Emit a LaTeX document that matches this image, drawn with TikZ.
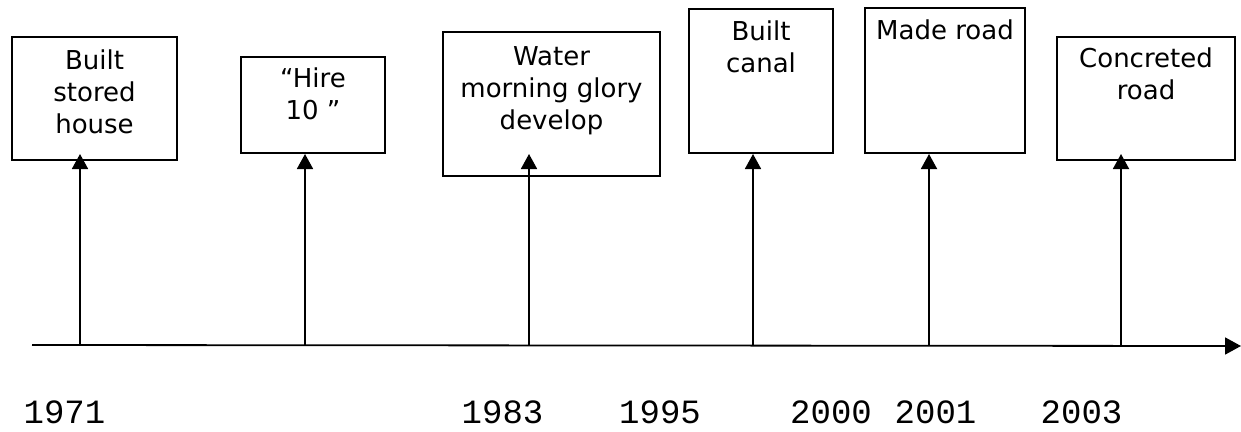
\documentclass[tikz,border=0pt]{standalone}
\usepackage{fontspec}
\usetikzlibrary{arrows.meta}
\newfontfamily\eventfont{DejaVu Sans}
\newfontfamily\yearfont{Liberation Mono}
\begin{document}
\begin{tikzpicture}[x=1pt,y=1pt,
  evbox/.style={draw, line width=1.8pt, inner sep=0pt},
  evtext/.style={anchor=north, inner sep=0pt, align=center,
    font=\eventfont\fontsize{26}{32}\selectfont},
  yrtext/.style={anchor=base, inner sep=0pt,
    font=\yearfont\fontsize{34}{40}\selectfont},
  uparrow/.style={line width=1.8pt, -{Triangle[length=15pt,width=16pt]}},
  axis/.style={line width=1.8pt, -{Triangle[length=16pt,width=17pt]}}]
\useasboundingbox (0,0) rectangle (1241,-431);

% event boxes
\node[evbox, minimum width=165pt, minimum height=123pt] (b1) at (94.5,-98.5) {};
\node[evbox, minimum width=144pt, minimum height=96pt]  (b2) at (313,-105) {};
\node[evbox, minimum width=217pt, minimum height=144pt] (b3) at (551.5,-104) {};
\node[evbox, minimum width=144pt, minimum height=144pt] (b4) at (761,-81) {};
\node[evbox, minimum width=160pt, minimum height=145pt] (b5) at (945,-80.5) {};
\node[evbox, minimum width=178pt, minimum height=123pt] (b6) at (1146,-98.5) {};

% event labels
\node[evtext] (l1) at (94.5,-50) {Built\\stored\\house};
\node[evtext] (l2) at (313,-68) {“Hire\\10 ”};
\node[evtext] (l3) at (551.5,-46) {Water\\morning glory\\develop};
\node[evtext] (l4) at (761,-21) {Built\\canal};
\node[evtext] (l5) at (945,-20) {Made road};
\node[evtext] (l6) at (1146,-48) {Concreted\\road};

% time axis
\coordinate (a0) at (32,-345);
\coordinate (a1) at (1241,-346);
\draw[axis] (a0) -- (a1);

% markers rising from the axis
\foreach \i/\x in {1/80,2/305,3/529,4/753,5/929,6/1121}{
  \coordinate (s\i) at (\x,-345.5);
  \coordinate (e\i) at (\x,-154);
  \draw[uparrow] (s\i) -- (e\i);
}

% years
\node[yrtext] (y1) at (64.5,-423) {1971};
\node[yrtext] (y2) at (502.5,-423) {1983};
\node[yrtext] (y3) at (660,-423) {1995};
\node[yrtext] (y4) at (831,-423) {2000};
\node[yrtext] (y5) at (935.5,-423) {2001};
\node[yrtext] (y6) at (1081.5,-423) {2003};
\end{tikzpicture}
\end{document}
